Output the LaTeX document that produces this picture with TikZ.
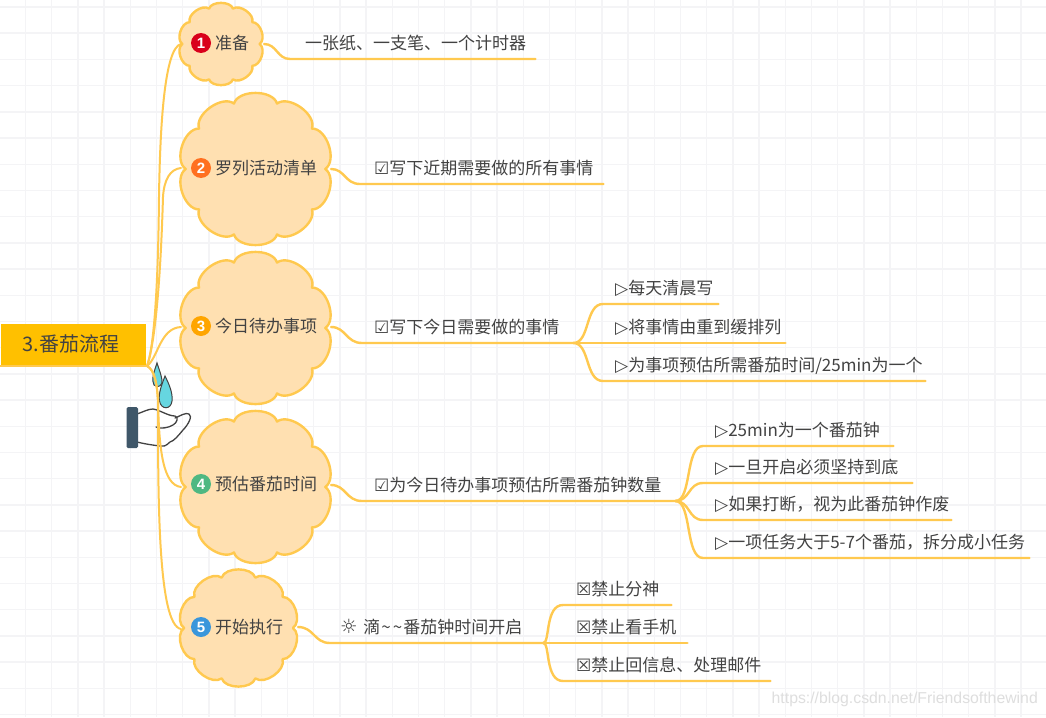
\documentclass[tikz,border=0pt]{standalone}
\usepackage{fontspec}
\setmainfont{Noto Sans CJK SC}
\newfontfamily\symf{DejaVu Sans}
\newfontfamily\latf{Liberation Sans}
\definecolor{gridc}{HTML}{F4F4F6}
\definecolor{linec}{HTML}{FFC94F}
\definecolor{cloudf}{HTML}{FFE0B1}
\definecolor{inkc}{HTML}{424242}
\definecolor{rootf}{HTML}{FFC000}
\definecolor{dropf}{HTML}{66D6E0}
\definecolor{barf}{HTML}{3F5769}
\definecolor{bone}{HTML}{D9001B}
\definecolor{btwo}{HTML}{FF7020}
\definecolor{bthree}{HTML}{FFA500}
\definecolor{bfour}{HTML}{4FB882}
\definecolor{bfive}{HTML}{3A96DB}
\newcommand{\chk}{{\symf\char"2611}}
\newcommand{\xbx}{{\symf\char"2612}}
\newcommand{\tri}{{\symf\char"25B7}}
\newcommand{\sunc}{\scalebox{1.15}{\symf\char"263C}}
\newcommand{\tld}{\makebox[11.5pt]{\textasciitilde}}
\tikzset{
  x=1pt,y=-1pt,
  conn/.style={draw=linec,line width=2.4pt,line cap=round,line join=round},
  trunk/.style={draw=linec,line width=2pt,line cap=round,line join=round},
  cloudshape/.style={draw=linec,line width=2.4pt,fill=cloudf,line join=round},
  lab/.style={inner sep=0pt,text=inkc,anchor=west,font=\fontsize{17}{20}\selectfont},
  leaf/.style={lab,anchor=south west,inner xsep=0pt,inner ysep=5pt,align=left,text height=15pt,text depth=4pt},
  badge/.style={circle,inner sep=0pt,minimum size=20pt,text=white,font=\latf\bfseries\fontsize{15}{15}\selectfont},
}
% #1 cx, #2 cy, #3 rx, #4 ry
\newcommand{\cloudat}[4]{%
  \draw[cloudshape] ({#1+0.93*#3},#2)
  \foreach \a in {0,36,...,324}{
    .. controls ({#1+1.1*#3*cos(\a+6)},{#2+1.1*#4*sin(\a+6)}) and ({#1+1.1*#3*cos(\a+30)},{#2+1.1*#4*sin(\a+30)}) .. ({#1+0.93*#3*cos(\a+36)},{#2+0.93*#4*sin(\a+36)})
  } -- cycle;%
}
\newcommand{\leafline}[5]{% name, x start of text, line y, line end, text
  \node[leaf,text width={#4-#2}] (#1) at (#2,#3) {#5};
}
\begin{document}
\begin{tikzpicture}
\useasboundingbox (0,0) rectangle (1046,717);
\fill[white] (0,0) rectangle (1046,717);
\foreach \k in {0,...,40} \draw[gridc,line width=1.4pt] ({-0.8+26.2*\k},0) -- ({-0.8+26.2*\k},717);
\foreach \k in {0,...,27} \draw[gridc,line width=1.4pt] (0,{7+26.2*\k}) -- (1046,{7+26.2*\k});

% hand and drops
\draw[inkc,line width=1pt,fill=dropf] (157,363) .. controls (154,372) and (151,380) .. (154,385) .. controls (158,389) and (163,385) .. (162,380) .. controls (161,374) and (159,369) .. (157,363) -- cycle;
\draw[inkc,line width=1pt,fill=dropf] (165,376) .. controls (162,384) and (158,394) .. (159.5,401) .. controls (161,410) and (171,410) .. (172,401) .. controls (173,393) and (169,384) .. (165,376) -- cycle;
\draw[inkc,line width=1.3pt,line cap=round] (137,414) .. controls (143,412) and (148,409) .. (153,409) .. controls (160,410) and (168,416) .. (175,416) .. controls (179,417) and (177,423) .. (173,425) .. controls (168,428) and (161,429) .. (156,427);
\draw[inkc,line width=1.3pt,line cap=round] (175,418) .. controls (180,416) and (186,412) .. (189,414) .. controls (193,416) and (188,425) .. (183,430) .. controls (178,436) and (174,441) .. (170,442) .. controls (166,446) and (163,447) .. (160,446) .. controls (152,445) and (145,444) .. (137,442);
\fill[barf,rounded corners=1.5pt] (126.5,407) rectangle (138,448);

% clouds
\cloudat{221}{44}{41.5}{40}
\cloudat{255.5}{169}{75}{74}
\cloudat{255.5}{328}{75}{74}
\cloudat{255.5}{487}{75}{74}
\cloudat{238.5}{628}{58.5}{57}

% root
\fill[rootf] (1,324) rectangle (146,366);
\node[lab,anchor=center,font=\fontsize{20}{24}\selectfont] (root) at (71,344) {3.番茄流程};
\coordinate (rootend) at (147,366);
\coordinate (rootstart) at (0,366);
\draw[conn] (rootstart) -- (rootend);

% level 1 labels
\node[badge,fill=bone] (b1) at (201,43) {1};
\node[lab] (c1) at (215,43) {准备};
\node[badge,fill=btwo] (b2) at (201,168) {2};
\node[lab] (c2) at (215,168) {罗列活动清单};
\node[badge,fill=bthree] (b3) at (201,326) {3};
\node[lab] (c3) at (215,326) {今日待办事项};
\node[badge,fill=bfour] (b4) at (201,484) {4};
\node[lab] (c4) at (215,484) {预估番茄时间};
\node[badge,fill=bfive] (b5) at (201,627) {5};
\node[lab] (c5) at (215,627) {开始执行};

% cloud connection points
\coordinate (c1l) at (181,44); \coordinate (c1r) at (264,44);
\coordinate (c2l) at (181,168); \coordinate (c2r) at (331,169);
\coordinate (c3l) at (181,327); \coordinate (c3r) at (331,327);
\coordinate (c4l) at (181,487); \coordinate (c4r) at (331,485);
\coordinate (c5l) at (181,629); \coordinate (c5r) at (298,627);

% trunks
\draw[trunk] (rootend) .. controls (153,350) and (158,300) .. (159,197) .. controls (160,130) and (164,48) .. (c1l);
\draw[trunk] (rootend) .. controls (153,350) and (160,300) .. (163,197) .. controls (164,180) and (170,169) .. (c2l);
\draw[trunk] (rootend) .. controls (158,358) and (160,328) .. (c3l);
\draw[trunk] (rootend) .. controls (155,370) and (157,385) .. (158,400) .. controls (159,450) and (163,485) .. (c4l);
\draw[trunk] (rootend) .. controls (155,370) and (157,385) .. (158,400) .. controls (158,500) and (158,625) .. (c5l);

% level 2
\node[leaf,text width=230pt] (a1) at (305,59) {一张纸、一支笔、一个计时器};
\node[leaf,text width=229pt] (a2) at (374,184) {\chk 写下近期需要做的所有事情};
\node[leaf,text width=199pt] (a3) at (374,343) {\chk 写下今日需要做的事情};
\node[leaf,text width=301pt] (a4) at (374,501) {\chk 为今日待办事项预估所需番茄钟数量};
\node[leaf,text width=203pt] (a5) at (340,643) {\sunc\ 滴\tld\tld 番茄钟时间开启};
\coordinate (a1s) at (290,59); \coordinate (a2s) at (360,184); \coordinate (a3s) at (362,343); \coordinate (a4s) at (362,501); \coordinate (a5s) at (330,643);
\draw[conn] (c1r) .. controls (277,44) and (277,59) .. (a1s) -- (a1.south east);
\draw[conn] (c2r) .. controls (345,169) and (345,184) .. (a2s) -- (a2.south east);
\draw[conn] (c3r) .. controls (346,327) and (346,343) .. (a3s) -- (a3.south east);
\draw[conn] (c4r) .. controls (346,485) and (346,501) .. (a4s) -- (a4.south east);
\draw[conn] (c5r) .. controls (314,627) and (314,643) .. (a5s) -- (a5.south east);

% level 3 under item 3
\leafline{l31}{615}{304}{718}{\tri 每天清晨写}
\leafline{l32}{615}{343}{785}{\tri 将事情由重到缓排列}
\leafline{l33}{615}{381}{925}{\tri 为事项预估所需番茄时间/25min为一个}
\coordinate (f31) at (603,304); \coordinate (f32) at (603,343); \coordinate (f33) at (603,381);
\draw[conn] (a3.south east) .. controls (590,343) and (585,304) .. (f31) -- (l31.south east);
\draw[conn] (a3.south east) -- (f32) -- (l32.south east);
\draw[conn] (a3.south east) .. controls (590,343) and (585,381) .. (f33) -- (l33.south east);

% level 3 under item 4
\leafline{l41}{715}{446}{893}{\tri 25min为一个番茄钟}
\leafline{l42}{715}{483}{912}{\tri 一旦开启必须坚持到底}
\leafline{l43}{715}{520}{951}{\tri 如果打断，视为此番茄钟作废}
\leafline{l44}{715}{558}{1029}{\tri 一项任务大于5-7个番茄，拆分成小任务}
\coordinate (f41) at (703,446); \coordinate (f42) at (703,483); \coordinate (f43) at (703,520); \coordinate (f44) at (703,558);
\draw[conn] (a4.south east) .. controls (692,501) and (685,446) .. (f41) -- (l41.south east);
\draw[conn] (a4.south east) .. controls (690,501) and (688,483) .. (f42) -- (l42.south east);
\draw[conn] (a4.south east) .. controls (690,501) and (688,520) .. (f43) -- (l43.south east);
\draw[conn] (a4.south east) .. controls (692,501) and (685,558) .. (f44) -- (l44.south east);

% level 3 under item 5
\leafline{l51}{576}{605}{671}{\xbx 禁止分神}
\leafline{l52}{576}{643}{687}{\xbx 禁止看手机}
\leafline{l53}{576}{681}{770}{\xbx 禁止回信息、处理邮件}
\coordinate (f51) at (563,605); \coordinate (f52) at (563,643); \coordinate (f53) at (563,681);
\draw[conn] (a5.south east) .. controls (550,643) and (545,605) .. (f51) -- (l51.south east);
\draw[conn] (a5.south east) -- (f52) -- (l52.south east);
\draw[conn] (a5.south east) .. controls (550,643) and (545,681) .. (f53) -- (l53.south east);

% watermark
\node[inner sep=0pt,anchor=east,text=black!13,font=\latf\fontsize{15.8}{16}\selectfont] (wm) at (1038,699) {https://blog.csdn.net/Friendsofthewind};
\end{tikzpicture}
\end{document}
